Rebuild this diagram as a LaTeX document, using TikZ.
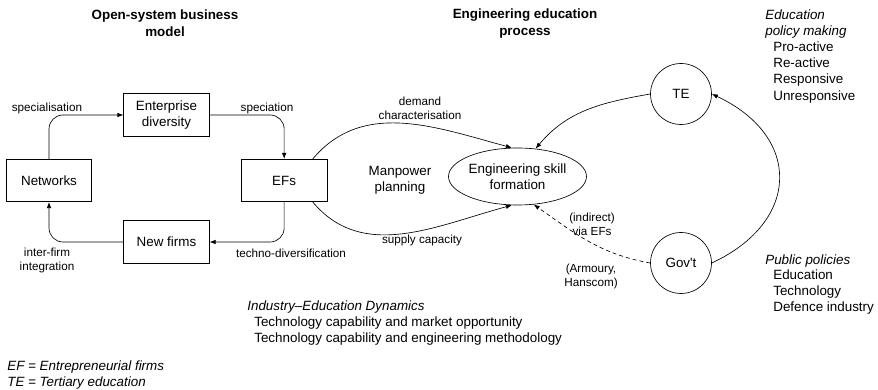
\documentclass[tikz,border=0pt]{standalone}
\usepackage{fontspec}
\setmainfont{Liberation Sans}
\usetikzlibrary{shapes.geometric, arrows.meta, positioning}

\begin{document}
\begin{tikzpicture}[x=1pt, y=1pt, node distance=0pt, line width=0.65pt,
    font=\fontsize{13.4}{16}\selectfont,
    box/.style={rectangle, draw, align=center, minimum width=85.5pt, minimum height=42.5pt, inner sep=0pt},
    circ/.style={circle, draw, minimum size=61pt, inner sep=0pt},
    lbl/.style={align=center, inner sep=0pt, font=\fontsize{11.7}{14.6}\selectfont},
    head/.style={align=center, inner sep=0pt, font=\fontsize{13.4}{17}\selectfont\bfseries},
    note/.style={align=left, inner sep=0pt, anchor=north west},
    flow/.style={-{Latex[length=6pt, width=4.5pt]}}]

\useasboundingbox (0,0) rectangle (878,390);

% headings
\node [head] (osbm) at (165,366.5) {Open-system business\\model};
\node [head] (eep) at (525,366.5) {Engineering education\\process};

% business model loop
\node [box] (net) at (49,209.5) {Networks};
\node [box, right=149pt of net] (efs) {EFs};
\node [box] (ent) at (166.5,275) {Enterprise\\diversity};
\node [box] (nf) at (166.5,148) {New firms};

\draw [flow, rounded corners=14pt] (net.north) |- (ent.west);
\draw [flow, rounded corners=14pt] (ent.east) -| (efs.north);
\draw [flow, rounded corners=14pt] (efs.south) |- (nf.east);
\draw [flow, rounded corners=14pt] (nf.west) -| (net.south);

\node [lbl] (spec) at (47,282) {specialisation};
\node [lbl] (spn) at (267,282) {speciation};
\node [lbl] (tdiv) at (291,137) {techno-diversification};
\node [lbl] (ifi) at (47,129.5) {inter-firm\\integration};

% education process
\node [ellipse, draw, minimum width=119pt, minimum height=57pt, inner sep=0pt, align=center] (skill) at (517.5,213.5) {Engineering skill\\formation};
\node [align=center] (mp) at (400,210) {Manpower\\planning};

\draw [flow] (efs.37) to [out=50, in=165] (skill.101);
\draw [flow] (efs.-37) to [out=-50, in=-165] (skill.-101);
\node [lbl] (dc) at (420,281.5) {demand\\characterisation};
\node [lbl] (sc) at (422,150) {supply capacity};

% policy actors
\node [circ] (te) at (681,296) {TE};
\node [circ] (gov) at (681,127) {Gov\textquotesingle t};
\draw [flow] (te.west) to [out=190, in=50] (skill.57);
\draw [flow] (gov.east) to [out=25, in=-25, looseness=1.5] (te.east);
\draw [flow, dash pattern=on 4pt off 3pt] (gov.west) to [out=170, in=-35] (skill.-60);
\node [lbl] (ind) at (592,165.5) {(indirect)\\via EFs};
\node [lbl] (arm) at (591,113.5) {(Armoury,\\Hanscom)};

% side notes
\node [note, font=\fontsize{13.4}{16.2}\selectfont] (epm) at (765,381) {\textit{Education}\\\textit{policy making}\\\hspace*{8pt}Pro-active\\\hspace*{8pt}Re-active\\\hspace*{8pt}Responsive\\\hspace*{8pt}Unresponsive};
\node [note, font=\fontsize{13.4}{15.7}\selectfont] (pp) at (765,136) {\textit{Public policies}\\\hspace*{8pt}Education\\\hspace*{8pt}Technology\\\hspace*{8pt}Defence industry};
\node [note] (ied) at (247,90) {\textit{Industry--Education Dynamics}\\\hspace*{7pt}Technology capability and market opportunity\\\hspace*{7pt}Technology capability and engineering methodology};
\node [note] (abbr) at (7,30) {\textit{EF = Entrepreneurial firms}\\\textit{TE = Tertiary education}};
\end{tikzpicture}
\end{document}
